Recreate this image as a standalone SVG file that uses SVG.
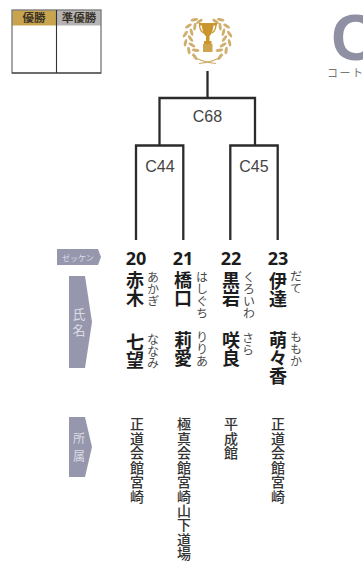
<svg xmlns="http://www.w3.org/2000/svg" width="363" height="563" viewBox="0 0 363 563">
<style>
.jp{font-family:"Noto Sans CJK JP","Noto Sans",sans-serif}
.v{writing-mode:vertical-rl;text-orientation:upright;text-anchor:start}
.name{font-size:18px;font-weight:700;fill:#1c1c1c}
.kana{font-size:12px;fill:#4a4a4a;letter-spacing:.2px}
.aff{font-size:14px;font-weight:500;fill:#333;letter-spacing:.45px}
.num{font-family:"Noto Sans",sans-serif;font-size:18px;font-weight:700;fill:#1c1c1c;text-anchor:middle}
.code{font-family:"Liberation Sans",Arial,sans-serif;font-size:16px;fill:#444;text-anchor:middle}
.tab{font-size:11.500px;font-weight:700;fill:#3a3326;text-anchor:middle}
.tag{fill:#9697ad}
.tagt{fill:#dcdce6}
.line{fill:none;stroke:#2b2b2b;stroke-width:2.300;stroke-linecap:butt;stroke-linejoin:miter}
.gold{fill:#cfae6e}
</style>
<defs>
<ellipse id="leaf" class="gold" cx="0" cy="0" rx="3.800" ry="1.500"/>
<g id="wreath">
<use href="#leaf" transform="rotate(-56 207.500 38) translate(185 38) rotate(-65)"/>
<use href="#leaf" transform="rotate(-34 207.500 38) translate(185 38) rotate(-65)"/>
<use href="#leaf" transform="rotate(-12 207.500 38) translate(185 38) rotate(-65)"/>
<use href="#leaf" transform="rotate(10 207.500 38) translate(185 38) rotate(-65)"/>
<use href="#leaf" transform="rotate(32 207.500 38) translate(185 38) rotate(-65)"/>
<use href="#leaf" transform="rotate(54 207.500 38) translate(185 38) rotate(-65)"/>
<use href="#leaf" transform="rotate(-46 207.500 38) translate(190.500 38) rotate(-125)"/>
<use href="#leaf" transform="rotate(-24 207.500 38) translate(190.500 38) rotate(-125)"/>
<use href="#leaf" transform="rotate(-2 207.500 38) translate(190.500 38) rotate(-125)"/>
<use href="#leaf" transform="rotate(20 207.500 38) translate(190.500 38) rotate(-125)"/>
<use href="#leaf" transform="rotate(42 207.500 38) translate(190.500 38) rotate(-125)"/>
<use href="#leaf" transform="rotate(64 207.500 38) translate(189 38) rotate(-100)"/>
<path d="M192 55Q200 62 216 63.500" fill="none" stroke="#cfae6e" stroke-width="1.100"/>
</g>
</defs>
<rect width="363" height="563" fill="#fff"/>

<g id="result-table">
<rect x="12" y="10" width="45" height="15.500" fill="#c9a44f"/>
<rect x="57" y="10" width="44" height="15.500" fill="#b6b3b6"/>
<rect x="12" y="10" width="89" height="63" fill="none" stroke="#808080" stroke-width="1.400"/>
<path d="M12 73H101M56.500 10V73" fill="none" stroke="#333" stroke-width="1.100"/>
<text class="jp tab" x="34" y="22">優勝</text>
<text class="jp tab" x="79" y="22">準優勝</text>
</g>

<g id="trophy">
<use href="#wreath"/>
<use href="#wreath" transform="translate(415 0) scale(-1 1)"/>
<path d="M199 23H217V25.500H213.500C212.800 32 210.500 35.500 209.500 36V41H211.500V44H204V41H206V36C204.500 35.500 202.500 32 201.800 25.500H199Z" fill="#c9952c"/>
<path d="M199.500 25Q200 31.500 204 33M216 25Q215.500 31.500 211.500 33" fill="none" stroke="#c9952c" stroke-width="1.300"/>
<rect x="203" y="44" width="9.500" height="8" fill="#cfa44f"/>
</g>

<g id="connectors">
<path class="line" d="M207.500 71V98M159.500 145.500V98H255V145.500"/>
<path class="line" d="M136 240V145.500H183.300V240"/>
<path class="line" d="M230.300 240V145.500H277.700V240"/>
</g>

<g id="match-c68"><text class="code" x="207.500" y="122">C68</text></g>
<g id="match-c44"><text class="code" x="160" y="172">C44</text></g>
<g id="match-c45"><text class="code" x="254" y="172">C45</text></g>

<g id="court-title">
<text x="331" y="60" font-family="'Liberation Sans',Arial,sans-serif" font-weight="700" font-size="65" fill="#8f90a3">C</text>
<text class="jp" x="327" y="77" font-size="11" letter-spacing="1.500" fill="#777">コート</text>
</g>

<g id="label-zekken">
<polygon class="tag" points="57,249 98,249 101,257 98,265 57,265"/>
<text class="jp tagt" x="78" y="260.500" font-size="8" text-anchor="middle">ゼッケン</text>
</g>
<g id="label-name">
<polygon class="tag" points="69,276 85,276 92,322 85,368 69,368"/>
<text class="jp v tagt" x="79" y="308" font-size="13" letter-spacing="2.500">氏名</text>
</g>
<g id="label-affiliation">
<polygon class="tag" points="69,417 85,417 92,447 85,477 69,477"/>
<text class="jp v tagt" x="79" y="432" font-size="12" letter-spacing="6">所属</text>
</g>

<g id="player-20">
<text class="num" x="136" y="265">20</text>
<text class="jp v name" x="135" y="271">赤木</text>
<text class="jp v name" x="135" y="333">七望</text>
<text class="jp v kana" x="153" y="271">あかぎ</text>
<text class="jp v kana" x="153" y="333">ななみ</text>
<text class="jp v aff" x="137" y="417">正道会館宮崎</text>
</g>
<g id="player-21">
<text class="num" x="183" y="265">21</text>
<text class="jp v name" x="183" y="271">橋口</text>
<text class="jp v name" x="183" y="331">莉愛</text>
<text class="jp v kana" x="202" y="271">はしぐち</text>
<text class="jp v kana" x="202" y="331">りりあ</text>
<text class="jp v aff" x="184" y="417">極真会館宮崎山下道場</text>
</g>
<g id="player-22">
<text class="num" x="231" y="265">22</text>
<text class="jp v name" x="231" y="271">黒岩</text>
<text class="jp v name" x="231" y="331">咲良</text>
<text class="jp v kana" x="249" y="271">くろいわ</text>
<text class="jp v kana" x="248" y="332">さら</text>
<text class="jp v aff" x="231" y="417">平成館</text>
</g>
<g id="player-23">
<text class="num" x="278" y="265">23</text>
<text class="jp v name" x="278" y="272">伊達</text>
<text class="jp v name" x="278" y="331">萌々香</text>
<text class="jp v kana" x="296" y="270">だて</text>
<text class="jp v kana" x="296" y="331">ももか</text>
<text class="jp v aff" x="278" y="417">正道会館宮崎</text>
</g>
</svg>
